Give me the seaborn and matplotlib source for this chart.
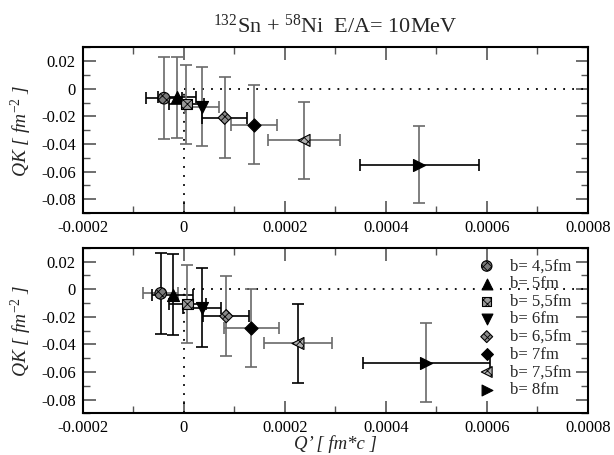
import numpy as np
import pandas as pd
import matplotlib
matplotlib.use("Agg")
import matplotlib.pyplot as plt
import seaborn as sns
from matplotlib.ticker import MultipleLocator

# ---------------- data ----------------
b_labels = ["b= 4,5fm", "b= 5fm", "b= 5,5fm", "b= 6fm",
            "b= 6,5fm", "b= 7fm", "b= 7,5fm", "b= 8fm"]

top_x = [-3.9e-5, -1.3e-5, 5.3e-6, 3.6e-5, 8.1e-5, 1.39e-4, 2.38e-4, 4.66e-4]
top_y = [-0.0068, -0.0063, -0.0111, -0.0130, -0.0210, -0.0261, -0.0374, -0.0551]
top_xerr = [3.6e-5, 3.8e-5, 3.5e-5, 3.4e-5, 4.5e-5, 4.5e-5, 7.1e-5, 1.175e-4]
top_yerr = [0.0296, 0.0290, 0.0286, 0.0286, 0.0293, 0.0285, 0.0278, 0.0279]

bot_x = [-4.55e-5, -2.2e-5, 7.3e-6, 3.6e-5, 8.4e-5, 1.34e-4, 2.26e-4, 4.80e-4]
bot_y = [-0.0031, -0.0041, -0.0109, -0.0135, -0.0196, -0.0283, -0.0394, -0.0534]
bot_xerr = [3.5e-5, 4.0e-5, 3.6e-5, 3.7e-5, 4.55e-5, 5.35e-5, 6.8e-5, 1.258e-4]
bot_yerr = [0.0295, 0.0295, 0.0284, 0.0285, 0.0291, 0.0281, 0.0286, 0.0286]

x_ticks = [-0.0002, 0, 0.0002, 0.0004, 0.0006, 0.0008]
x_tick_labels = ["-0.0002", "0", "0.0002", "0.0004", "0.0006", "0.0008"]
y_ticks = [-0.08, -0.06, -0.04, -0.02, 0, 0.02]
y_tick_labels = ["-0.08", "-0.06", "-0.04", "-0.02", "0", "0.02"]

# ---------------- styles ----------------
markers = ["o", "^", "s", "v", "D", "D", "<", ">"]
msizes = [70, 75, 55, 75, 45, 45, 75, 75]
fills = ["#7a7a7a", "black", "#9a9a9a", "black", "#8a8a8a", "black", "#b0b0b0", "black"]
hatches = ["xxxx", None, "xxxx", None, "xxxx", None, "xxxx", None]
GREY = "#6a6a6a"
top_vcol = [GREY] * 8
top_hcol = ["black", "black", "black", GREY, "black", GREY, GREY, "black"]
bot_vcol = ["black", "black", GREY, "black", GREY, GREY, "black", GREY]
bot_hcol = [GREY, "black", "black", "black", "black", GREY, GREY, "black"]

sns.set_theme(style="ticks")
plt.rcParams["font.family"] = ["Liberation Serif", "DejaVu Serif"]
plt.rcParams["mathtext.fontset"] = "custom"
plt.rcParams["mathtext.rm"] = "Liberation Serif"
plt.rcParams["mathtext.it"] = "Liberation Serif:italic"
plt.rcParams["hatch.linewidth"] = 0.6
plt.rcParams["hatch.color"] = "black"

fig = plt.figure(figsize=(6.14, 4.55), dpi=100)
W, H = 614, 455
L, R = 82.7, 588
ax1 = fig.add_axes([L / W, 1 - 213 / H, (R - L) / W, 165.6 / H])
ax2 = fig.add_axes([L / W, 1 - 413.3 / H, (R - L) / W, 165.6 / H])


def draw(ax, xs, ys, xe, ye, vcol, hcol, with_label):
    for i in range(len(xs)):
        ax.errorbar([xs[i]], [ys[i]], yerr=[ye[i]], fmt="none",
                    ecolor=vcol[i], elinewidth=1.2, capsize=4, capthick=1.2, zorder=2)
        ax.errorbar([xs[i]], [ys[i]], xerr=[xe[i]], fmt="none",
                    ecolor=hcol[i], elinewidth=1.2, capsize=4, capthick=1.2, zorder=2)
    for i in range(len(xs)):
        df = pd.DataFrame({"x": [xs[i]], "y": [ys[i]]})
        kw = {}
        if hatches[i]:
            kw["hatch"] = hatches[i]
        sns.scatterplot(data=df, x="x", y="y", ax=ax, marker=markers[i],
                        s=msizes[i], color=fills[i], edgecolor="black",
                        linewidth=0.8, zorder=3,
                        label=b_labels[i] if with_label else None, **kw)
    # dotted zero lines
    ax.plot([0, 0.0008], [0, 0], linestyle=(0, (1, 4)), color="black", lw=1.3, zorder=1)
    ax.plot([0, 0], [-0.09, 0], linestyle=(0, (1, 4)), color="black", lw=1.3, zorder=1)

    ax.set_xlim(-0.0002, 0.0008)
    ax.set_ylim(-0.09, 0.03)
    ax.set_xticks(x_ticks)
    ax.set_yticks(y_ticks)
    ax.xaxis.set_minor_locator(MultipleLocator(0.0001))
    ax.yaxis.set_minor_locator(MultipleLocator(0.01))
    ax.set_xticklabels(x_tick_labels)
    ax.set_yticklabels(y_tick_labels)
    ax.tick_params(which="both", direction="in", top=True, right=True,
                   color="#555555", labelsize=12, labelcolor="black", pad=5)
    ax.tick_params(which="major", length=9, width=1.2)
    ax.tick_params(which="minor", length=5, width=1.0)
    for s in ax.spines.values():
        s.set_linewidth(1.5)
        s.set_color("black")
    ax.set_ylabel(r"QK [ fm$^{-2}$ ]", fontsize=14, fontstyle="italic")
    ax.yaxis.set_label_coords(-0.097, 0.5)
    ax.set_xlabel("")


draw(ax1, top_x, top_y, top_xerr, top_yerr, top_vcol, top_hcol, False)
draw(ax2, bot_x, bot_y, bot_xerr, bot_yerr, bot_vcol, bot_hcol, True)
if ax1.get_legend():
    ax1.get_legend().remove()

ax2.set_xlabel("Q’ [ fm*c ]", fontsize=13.5, fontstyle="italic")
ax2.xaxis.set_label_coords(0.5, -0.13)
ax2.legend(loc="upper left", bbox_to_anchor=(0.76, 1.006), frameon=False,
           fontsize=12, handlelength=1.0, handletextpad=0.9, labelspacing=0.1,
           borderpad=0.2, markerscale=0.9)

fig.text((L + R) / 2 / W, 1 - 26 / H, r"$^{132}$Sn + $^{58}$Ni  E/A= 10MeV",
         ha="center", va="center", fontsize=16)

fig.savefig("out.png", dpi=100)
